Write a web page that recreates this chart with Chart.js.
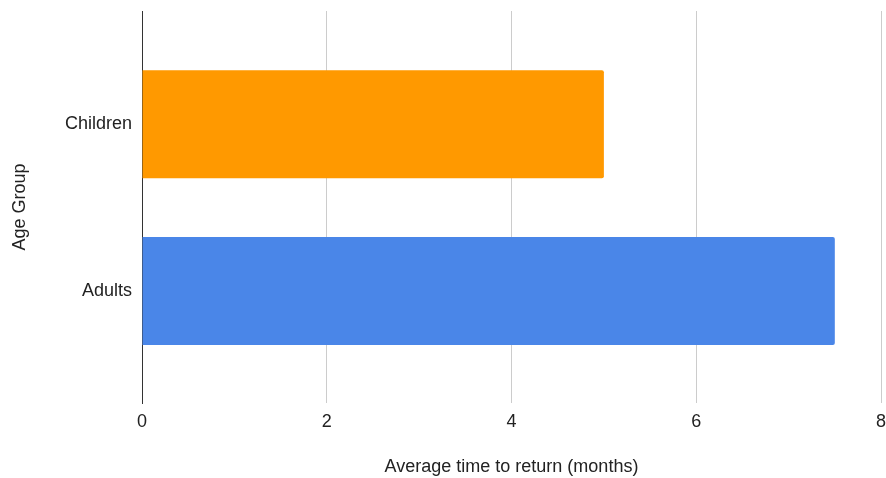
<!DOCTYPE html>
<html>
<head>
<meta charset="utf-8">
<script src="https://cdn.jsdelivr.net/npm/chart.js@4"></script>
<style>
html,body{margin:0;padding:0;background:#fff;}
#wrap{width:886px;height:478px;position:relative;}
</style>
</head>
<body>
<div id="wrap"><canvas id="c"></canvas></div>
<script>
const categories = ['Children', 'Adults'];
const values = [5, 7.5];
const barColors = ['#FF9900', '#4A86E8'];
const xTicks = [0, 2, 4, 6, 8];

const FONT = 'Liberation Sans, Arial, sans-serif';

new Chart(document.getElementById('c'), {
  type: 'bar',
  data: {
    datasets: [{
      data: categories.map((c, i) => ({ x: values[i], y: i })),
      backgroundColor: barColors,
      borderWidth: 0,
      borderRadius: 2,
      borderSkipped: 'start',
      categoryPercentage: 1,
      barPercentage: 0.648
    }]
  },
  options: {
    indexAxis: 'y',
    responsive: true,
    maintainAspectRatio: false,
    animation: false,
    layout: { padding: { top: 11, right: 5, left: 0, bottom: 0 } },
    plugins: { legend: { display: false }, tooltip: { enabled: false } },
    scales: {
      x: {
        type: 'linear',
        min: 0, max: 8,
        afterBuildTicks: s => { s.ticks = xTicks.map(v => ({ value: v })); },
        afterFit: s => { s.height = 75; s.paddingLeft = 0; s.paddingRight = 0; },
        grid: {
          color: ctx => ctx.tick && ctx.tick.value === 0 ? 'rgba(0,0,0,0)' : '#cccccc',
          lineWidth: 1,
          drawTicks: false
        },
        border: { display: false },
        ticks: { color: '#222', font: { family: FONT, size: 18 }, padding: 8 },
        title: {
          display: true,
          text: 'Average time to return (months)',
          color: '#222',
          font: { family: FONT, size: 18 },
          padding: { top: 14, bottom: 0 }
        }
      },
      y: {
        type: 'linear',
        reverse: true,
        offset: false,
        min: -0.68, max: 1.672,
        afterBuildTicks: s => { s.ticks = categories.map((c, i) => ({ value: i })); },
        afterFit: s => { s.width = 142; s.paddingTop = 0; s.paddingBottom = 0; },
        grid: { display: false, drawTicks: false, offset: false },
        border: { display: true, color: '#333333', width: 1 },
        ticks: {
          color: '#222',
          font: { family: FONT, size: 18 },
          padding: 10,
          callback: v => categories[v]
        },
        title: {
          display: true,
          text: 'Age Group',
          color: '#222',
          font: { family: FONT, size: 18 },
          padding: { top: 9, bottom: 0 }
        }
      }
    }
  }
});
</script>
</body>
</html>
